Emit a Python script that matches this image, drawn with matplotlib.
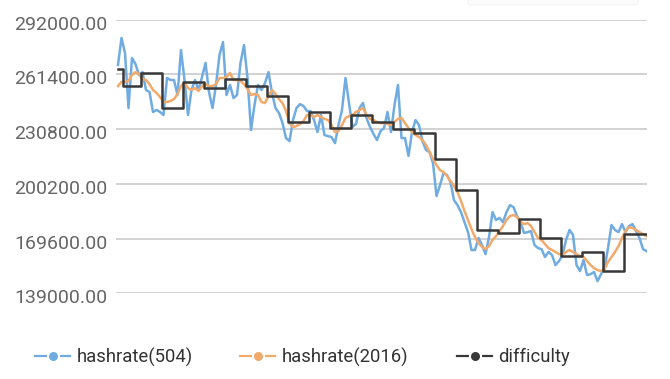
import numpy as np
import matplotlib
matplotlib.use("Agg")
import matplotlib.pyplot as plt
from matplotlib.lines import Line2D
from matplotlib.patches import FancyBboxPatch
import matplotlib.transforms as mtransforms

# ---- data (values in thousands) ----
hashrate_504 = [
    266.7, 281.8, 273.4, 242.6, 270.6, 267.2, 261.1, 262.7, 252.7, 251.6,
    240.4, 241.5, 240.4, 238.7, 259.4, 258.3, 258.3, 249.9, 275.0, 258.3,
    238.7, 252.7, 258.3, 252.7, 259.9, 267.8, 251.6, 242.6, 255.5, 272.3,
    279.5, 249.9, 255.5, 248.2, 249.9, 267.8, 277.8, 259.4, 230.3, 244.3,
    255.5, 252.7, 256.6, 262.7, 251.0, 242.6, 239.8, 234.2, 225.8, 224.1,
    235.9, 242.6, 244.8, 243.7, 240.9, 240.9, 235.9, 229.2, 238.7, 227.5,
    226.9, 226.4, 223.0, 233.1, 241.5, 259.4, 245.4, 232.0, 233.7, 242.6,
    245.4, 237.0, 232.0, 228.1, 224.7, 229.7, 231.4, 240.4, 229.2, 244.3,
    255.5, 225.8, 225.8, 215.8, 229.2, 235.9, 233.1, 224.1, 219.1, 218.0,
    211.8, 193.4, 199.5, 206.2, 205.1, 201.2, 191.1, 188.3, 184.4, 178.8,
    173.2, 163.2, 163.2, 169.9, 166.0, 160.9, 170.4, 184.4, 180.0, 181.1,
    178.8, 184.4, 188.3, 187.2, 182.2, 178.8, 172.7, 173.2, 173.8, 166.0,
    164.3, 163.7, 159.3, 162.1, 160.4, 154.8, 157.0, 160.4, 168.8, 174.4,
    171.6, 154.8, 151.4, 157.6, 149.2, 149.7, 150.9, 145.8, 149.7, 153.1,
    164.3, 177.2, 174.4, 173.2, 177.7, 173.2, 176.6, 177.7, 173.8, 169.9,
    163.7, 162.6,
]
hashrate_2016 = [
    254.9, 257.2, 257.2, 257.7, 261.1, 262.7, 261.6, 258.8, 258.3, 256.0,
    252.7, 251.0, 248.8, 246.0, 246.0, 246.5, 247.6, 250.4, 254.9, 256.6,
    253.8, 252.7, 253.8, 252.1, 254.9, 256.0, 254.9, 254.9, 256.0, 259.4,
    259.4, 259.9, 262.2, 258.3, 258.3, 257.7, 256.0, 253.2, 249.9, 250.4,
    249.9, 246.0, 245.4, 249.3, 252.7, 250.4, 247.6, 245.4, 240.9, 234.2,
    232.0, 232.5, 233.7, 235.3, 238.7, 238.7, 237.6, 238.7, 237.6, 236.5,
    235.9, 233.1, 229.2, 229.7, 233.1, 237.0, 238.1, 238.7, 240.4, 241.5,
    242.6, 238.7, 236.5, 235.9, 234.8, 234.2, 234.2, 233.7, 233.1, 234.8,
    236.5, 237.0, 234.2, 231.4, 229.2, 227.5, 226.4, 224.7, 221.9, 218.0,
    214.1, 210.7, 207.9, 206.8, 204.6, 201.8, 199.0, 195.6, 190.6, 185.0,
    180.0, 174.9, 170.4, 167.1, 164.9, 163.7, 165.4, 168.8, 171.0, 173.8,
    176.6, 180.0, 182.2, 182.8, 181.6, 178.8, 177.7, 178.3, 176.6, 173.2,
    169.9, 168.8, 166.5, 164.3, 163.2, 162.1, 160.9, 160.4, 162.1, 163.2,
    162.1, 160.9, 159.8, 159.3, 157.0, 154.8, 153.1, 152.0, 151.4, 152.5,
    156.5, 159.3, 162.1, 165.4, 169.9, 173.8, 176.0, 175.5, 174.4, 173.2,
    172.1, 171.0,
]
difficulty_levels = [
    264.4, 254.9, 262.2, 242.6, 257.1, 253.8, 258.8, 254.9, 249.3, 234.8,
    240.4, 231.4, 238.7, 234.8, 230.9, 228.6, 214.1, 196.7, 174.4, 172.7,
    180.5, 169.9, 159.8, 162.1, 151.4, 172.1,
]
difficulty_period_points = [2, 5] + [6] * 23 + [7]

y_ticks = [139000, 169600, 200200, 230800, 261400, 292000]
series_names = ["hashrate(504)", "hashrate(2016)", "difficulty"]

# ---- build ----
h504 = np.array(hashrate_504) * 1000
h2016 = np.array(hashrate_2016) * 1000
diff = np.repeat(np.array(difficulty_levels) * 1000, difficulty_period_points)
x = np.arange(len(h504))

c_blue = "#70ace2"
c_orange = "#f1aa6c"
c_dark = "#383838"
colors = [c_blue, c_orange, c_dark]

plt.rcParams['font.family'] = ['Roboto', 'DejaVu Sans']

W, H = 670, 379
fig = plt.figure(figsize=(6.7, 3.79), dpi=100)
fig.patch.set_facecolor("white")

# very faint shadow of a box at the top right
fig.add_artist(FancyBboxPatch((468 / W, 1 - 5 / H), 170 / W, 20 / H,
                              boxstyle="round,pad=0,rounding_size=0.005",
                              transform=fig.transFigure, facecolor="#fbfbfb",
                              edgecolor="#f4f4f4", lw=0.8, zorder=0))

ax = fig.add_axes([116 / W, 1 - 293.3 / H, (647 - 116) / W, (293.3 - 19.7) / H])
ax.patch.set_alpha(0)

ax.plot(x, h504, color=c_blue, lw=1.8, solid_joinstyle="round", zorder=3)
ax.plot(x, h2016, color=c_orange, lw=1.8, solid_joinstyle="round", zorder=4)
ax.plot(x, diff, color=c_dark, lw=1.8, drawstyle="steps-mid", zorder=5)

ax.set_xlim(-0.57, len(x) - 1 + 0.14)
ax.set_ylim(y_ticks[0], y_ticks[-1])
ax.set_yticks(y_ticks)
ax.set_yticklabels([f"{v:.2f}" for v in y_ticks])
ax.set_xticks([])
ax.yaxis.grid(True, color="#cfcfcf", lw=1.3)
ax.set_axisbelow(True)
for s in ax.spines.values():
    s.set_visible(False)
ax.tick_params(axis="y", length=0, pad=6, labelsize=14, labelcolor="#666666")
off = mtransforms.ScaledTranslation(0, -3 / 100, fig.dpi_scale_trans)
for lab in ax.get_yticklabels():
    lab.set_transform(lab.get_transform() + off)

# legend drawn manually
leg_y = 1 - 356 / H
handle_x0 = [35, 240, 457]
text_x = [77, 282, 498]
for c, hx, tx, name in zip(colors, handle_x0, text_x, series_names):
    fig.add_artist(Line2D([hx / W, (hx + 35) / W], [leg_y, leg_y], color=c, lw=1.6,
                          transform=fig.transFigure))
    fig.add_artist(Line2D([(hx + 17.5) / W], [leg_y], marker="o", markersize=8,
                          markerfacecolor=c, markeredgecolor="white",
                          markeredgewidth=1.5, linestyle="none",
                          transform=fig.transFigure))
    fig.text(tx / W, 1 - 357 / H, name, fontsize=13.3, color="#333333",
             ha="left", va="center")

fig.savefig("out.png", dpi=100, facecolor="white")
